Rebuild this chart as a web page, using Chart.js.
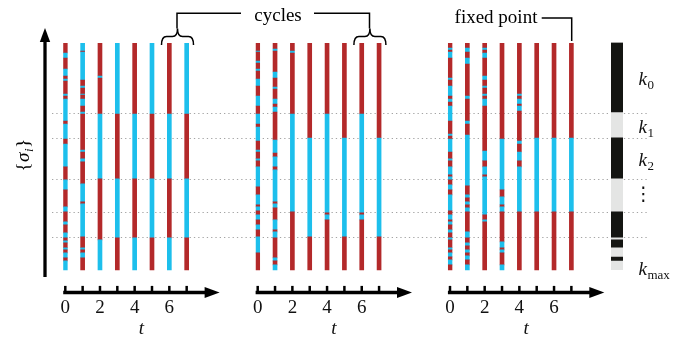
<!DOCTYPE html>
<html>
<head>
<meta charset="utf-8">
<script src="https://cdn.jsdelivr.net/npm/chart.js@4.4.0/dist/chart.umd.min.js"></script>
<style>
  html, body { margin: 0; padding: 0; background: #fff; }
  #wrap { position: relative; width: 684px; height: 338px; }
  #wrap canvas { position: absolute; left: 0; top: 0; }
</style>
</head>
<body>
<div id="wrap">
  <canvas id="bg" width="684" height="338"></canvas>
  <canvas id="kbar" width="684" height="338"></canvas>
  <canvas id="p0" width="684" height="338"></canvas>
  <canvas id="p1" width="684" height="338"></canvas>
  <canvas id="p2" width="684" height="338"></canvas>
</div>
<script>
// spins are indexed top (0) to bottom (spinCount)
const spinCount = 227;
const tValues = [0, 1, 2, 3, 4, 5, 6, 7];
const tickLabels = ["0", "2", "4", "6"];
const blockEdges = [70, 95, 136, 169, 194];
const kBarEdges = [0, 70, 95, 136, 169, 195, 197, 205, 214, 218, 227];
const kLabels = ["0", "1", "2", "⋮", "max"];

// each column: first state (r = red, c = cyan) and the spin indices where it flips
const cycleAStart = ["r", "c", "r", "c", "r", "c", "r", "c"];
const cycleAFlips = [
  [10, 15, 26, 33, 36, 38, 51, 53, 56, 78, 81, 96, 101, 124, 137, 147, 164, 169, 179, 182, 190, 195, 198, 200, 205, 207, 210, 215, 218],
  [8, 9, 37, 43, 45, 51, 52, 56, 63, 69, 71, 107, 109, 116, 119, 141, 159, 161, 194, 205, 207, 210, 215],
  [33, 35, 71, 136, 197],
  [71, 136, 195],
  [71, 136, 195],
  [71, 136, 195],
  [71, 136, 195],
  [71, 136, 195]
];
const cycleBStart = ["r", "r", "r", "r", "r", "r", "r", "r"];
const cycleBFlips = [
  [8, 9, 18, 20, 26, 28, 36, 43, 53, 63, 71, 81, 84, 98, 107, 109, 116, 118, 124, 144, 152, 162, 164, 168, 172, 177, 182, 187, 194, 210],
  [6, 8, 29, 35, 44, 46, 56, 61, 64, 69, 97, 110, 114, 124, 127, 159, 161, 165, 177, 187, 189, 195, 215, 218, 222],
  [8, 10, 71, 169],
  [95, 194],
  [71, 170, 172, 177],
  [95, 194],
  [71, 170, 172, 177],
  [95, 194]
];
const fixedStart = ["r", "r", "r", "r", "r", "r", "r", "r"];
const fixedFlips = [
  [5, 7, 9, 15, 35, 37, 43, 53, 56, 59, 63, 78, 91, 93, 96, 109, 116, 118, 124, 132, 134, 137, 142, 147, 152, 168, 172, 177, 179, 182, 187, 190, 195, 197, 205, 207, 210, 214, 217, 222],
  [5, 9, 15, 21, 53, 56, 78, 81, 92, 143, 152, 155, 159, 162, 165, 169, 189, 195, 200, 203, 207, 210, 213, 217, 222],
  [5, 7, 10, 15, 33, 37, 43, 45, 51, 53, 56, 63, 108, 118, 124, 132, 134, 172, 177, 179],
  [96, 147, 154, 162, 164, 169, 199, 205, 207, 210, 222],
  [51, 53, 56, 61, 63, 68, 98, 101, 109, 118, 124, 169],
  [95, 169],
  [95, 169],
  [95, 169]
];

const RED = "#b3292a";
const CYAN = "#1dbfec";
const SERIF = "'Liberation Serif', 'DejaVu Serif', serif";

const panels = [
  { id: "p0", t0: 65.3, start: cycleAStart, flips: cycleAFlips, brace: true },
  { id: "p1", t0: 257.7, start: cycleBStart, flips: cycleBFlips, brace: true },
  { id: "p2", t0: 450.0, start: fixedStart, flips: fixedFlips, brace: false }
];

const arrowAxis = {
  id: "arrowAxis",
  afterDraw(chart, args, opts) {
    const { ctx, chartArea: a, scales: { x } } = chart;
    const y0 = a.bottom;
    ctx.save();
    ctx.strokeStyle = "#000";
    ctx.fillStyle = "#000";
    ctx.lineWidth = 3.5;
    ctx.beginPath();
    ctx.moveTo(a.left, y0);
    ctx.lineTo(a.right - 12, y0);
    ctx.stroke();
    ctx.beginPath();
    ctx.moveTo(a.right, y0);
    ctx.lineTo(a.right - 15, y0 - 5.5);
    ctx.lineTo(a.right - 15, y0 + 5.5);
    ctx.closePath();
    ctx.fill();
    ctx.lineWidth = 2.5;
    x.ticks.forEach(t => {
      const px = x.getPixelForValue(t.value);
      ctx.beginPath();
      ctx.moveTo(px, y0 - 6.5);
      ctx.lineTo(px, y0);
      ctx.stroke();
    });
    if (opts.brace) {
      const xc = x.getPixelForValue(6.5) - 0.5, hw = 16, r = 5;
      const yb = 45, ym = 36.5, yt = 28.5;
      ctx.lineWidth = 1.5;
      ctx.beginPath();
      ctx.moveTo(xc - hw, yb);
      ctx.quadraticCurveTo(xc - hw, ym, xc - hw + r, ym);
      ctx.lineTo(xc - r, ym);
      ctx.quadraticCurveTo(xc, ym, xc, yt);
      ctx.quadraticCurveTo(xc, ym, xc + r, ym);
      ctx.lineTo(xc + hw - r, ym);
      ctx.quadraticCurveTo(xc + hw, ym, xc + hw, yb);
      ctx.stroke();
    }
    ctx.restore();
  }
};

function panelChart(p) {
  const segs = [], cols = [];
  p.flips.forEach((f, t) => {
    const edges = [0, ...f, spinCount];
    let s = p.start[t];
    for (let i = 0; i < edges.length - 1; i++) {
      segs.push({ x: tValues[t], y: [edges[i], edges[i + 1]] });
      cols.push(s === "r" ? RED : CYAN);
      s = s === "r" ? "c" : "r";
    }
  });
  const left = p.t0 - 2.08;
  new Chart(document.getElementById(p.id), {
    type: "bar",
    data: { datasets: [{ data: segs, backgroundColor: cols, borderWidth: 0, barThickness: 4, grouped: false }] },
    options: {
      responsive: false,
      animation: false,
      events: [],
      layout: { padding: { left: left, right: 684 - (left + 156.4), top: 43, bottom: 0 } },
      plugins: { legend: { display: false }, tooltip: { enabled: false }, arrowAxis: { brace: p.brace } },
      scales: {
        x: {
          type: "linear", min: -0.12, max: 8.9, offset: false,
          afterBuildTicks: s => { s.ticks = tValues.map(v => ({ value: v })); },
          grid: { display: false, drawTicks: false, offset: false },
          border: { display: false },
          ticks: {
            padding: 4, autoSkip: false, maxRotation: 0, color: "#111",
            font: { family: SERIF, size: 19 },
            callback: v => tickLabels.includes(String(v)) ? String(v) : ""
          },
          title: {
            display: true, text: "t", color: "#111", padding: { top: -4.2, bottom: 0 },
            font: { family: SERIF, size: 19, style: "italic", lineHeight: 1 }
          }
        },
        y: { display: false, min: 0, max: 249.5, reverse: true }
      }
    },
    plugins: [arrowAxis]
  });
}

// background: dotted block boundaries, vertical axis and annotations
const frame = {
  id: "frame",
  afterDraw(chart) {
    const ctx = chart.ctx;
    ctx.save();
    ctx.strokeStyle = "#000";
    ctx.fillStyle = "#000";
    ctx.lineWidth = 3.3;
    ctx.beginPath();
    ctx.moveTo(45, 277);
    ctx.lineTo(45, 40);
    ctx.stroke();
    ctx.beginPath();
    ctx.moveTo(45, 28);
    ctx.lineTo(39.8, 42);
    ctx.lineTo(50.2, 42);
    ctx.closePath();
    ctx.fill();

    // {sigma_i}
    ctx.save();
    ctx.translate(24, 155);
    ctx.rotate(-Math.PI / 2);
    const parts = [
      ["{", "19px " + SERIF, 0],
      ["σ", "italic 19px " + SERIF, 0],
      ["i", "italic 13px " + SERIF, 4],
      ["}", "19px " + SERIF, 0]
    ];
    let total = 0;
    parts.forEach(pt => { ctx.font = pt[1]; total += ctx.measureText(pt[0]).width + 0.5; });
    let u = -total / 2;
    ctx.textBaseline = "alphabetic";
    parts.forEach(pt => {
      ctx.font = pt[1];
      ctx.fillText(pt[0], u, 4.5 + pt[2]);
      u += ctx.measureText(pt[0]).width + 0.5;
    });
    ctx.restore();

    // annotations
    ctx.font = "19px " + SERIF;
    ctx.textAlign = "center";
    ctx.textBaseline = "alphabetic";
    ctx.fillText("cycles", 278, 21);
    ctx.fillText("fixed point", 496, 23);
    ctx.lineWidth = 1.5;
    ctx.beginPath();
    ctx.moveTo(177, 28.5); ctx.lineTo(177, 13.3); ctx.lineTo(241, 13.3);
    ctx.moveTo(314, 13.3); ctx.lineTo(369.5, 13.3); ctx.lineTo(369.5, 28.5);
    ctx.moveTo(541.7, 18); ctx.lineTo(571.7, 18); ctx.lineTo(571.7, 41);
    ctx.stroke();
    ctx.restore();
  }
};

new Chart(document.getElementById("bg"), {
  type: "bar",
  data: { datasets: [] },
  options: {
    responsive: false,
    animation: false,
    events: [],
    layout: { padding: { left: 52, right: 37, top: 43, bottom: 68 } },
    plugins: { legend: { display: false }, tooltip: { enabled: false } },
    scales: {
      x: { type: "linear", display: false, min: 0, max: 1, offset: false },
      y: {
        min: 0, max: spinCount, reverse: true,
        afterBuildTicks: s => { s.ticks = blockEdges.map(v => ({ value: v })); },
        ticks: { display: false },
        grid: { color: "#a4a4a4", lineWidth: 1, drawTicks: false },
        border: { display: false, dash: [1.3, 3] }
      }
    }
  },
  plugins: [frame]
});

// k blocks bar and labels
const kSegs = [], kCols = [];
for (let i = 0; i < kBarEdges.length - 1; i++) {
  kSegs.push({ x: 0, y: [kBarEdges[i], kBarEdges[i + 1]] });
  kCols.push(i % 2 === 0 ? "#141512" : "#e4e5e4");
}
const kText = {
  id: "kText",
  afterDraw(chart) {
    const { ctx, chartArea: a, scales: { y } } = chart;
    ctx.save();
    ctx.fillStyle = "#111";
    ctx.textBaseline = "alphabetic";
    kLabels.forEach((lab, i) => {
      const last = i === kLabels.length - 1;
      const v = last ? kBarEdges[kBarEdges.length - 1] : (kBarEdges[i] + kBarEdges[i + 1]) / 2;
      const py = y.getPixelForValue(v);
      const x0 = a.right + 15.5;
      if (lab === "⋮") {
        ctx.font = "19px 'DejaVu Sans'";
        ctx.textAlign = "center";
        ctx.textBaseline = "middle";
        ctx.fillText(lab, x0 + 5, py);
        ctx.textBaseline = "alphabetic";
        ctx.textAlign = "left";
        return;
      }
      const base = last ? py + 5 : py + 7.5;
      ctx.textAlign = "left";
      ctx.font = "italic 19px " + SERIF;
      ctx.fillText("k", x0, base);
      const w = ctx.measureText("k").width;
      ctx.font = "13px " + SERIF;
      ctx.fillText(lab, x0 + w + 0.5, base + 4);
    });
    ctx.restore();
  }
};
new Chart(document.getElementById("kbar"), {
  type: "bar",
  data: { datasets: [{ data: kSegs, backgroundColor: kCols, borderWidth: 0, barThickness: 12, grouped: false }] },
  options: {
    responsive: false,
    animation: false,
    events: [],
    layout: { padding: { left: 611, right: 61, top: 42.5, bottom: 68 } },
    plugins: { legend: { display: false }, tooltip: { enabled: false } },
    scales: {
      x: { type: "linear", display: false, min: -0.5, max: 0.5, offset: false },
      y: { display: false, min: 0, max: spinCount, reverse: true }
    }
  },
  plugins: [kText]
});

panels.forEach(panelChart);
</script>
</body>
</html>
